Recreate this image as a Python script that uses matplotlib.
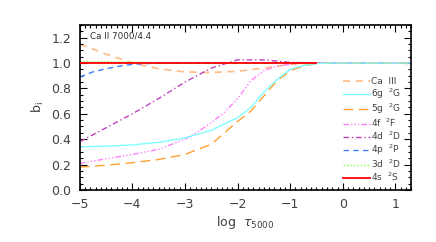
import numpy as np
import matplotlib
matplotlib.use("Agg")
import matplotlib.pyplot as plt
from matplotlib.ticker import MultipleLocator

# level labels (legend order) and curves
labels = ["Ca  III", "6g  $^2$G", "5g  $^2$G", "4f  $^2$F",
          "4d  $^2$D", "4p  $^2$P", "3d  $^2$D", "4s  $^2$S"]

x_ca3 = [-5, -4.5, -4, -3.5, -3, -2.5, -2, -1.5, -1, -0.5, 0, 1.3]
b_ca3 = [1.15, 1.07, 1.0, 0.955, 0.93, 0.925, 0.935, 0.96, 0.99, 1.0, 1.0, 1.0]

x_6g = [-5, -4.5, -4, -3.5, -3, -2.5, -2, -1.75, -1.5, -1.25, -1, -0.75, -0.5, -0.25, 1.3]
b_6g = [0.34, 0.345, 0.355, 0.375, 0.41, 0.47, 0.57, 0.65, 0.77, 0.87, 0.95, 0.98, 0.995, 1.0, 1.0]

x_5g = [-5, -4.5, -4, -3.5, -3, -2.5, -2.25, -2, -1.75, -1.5, -1.25, -1, -0.75, -0.5, -0.25, 1.3]
b_5g = [0.18, 0.195, 0.215, 0.24, 0.28, 0.36, 0.45, 0.54, 0.62, 0.74, 0.86, 0.94, 0.975, 0.995, 1.0, 1.0]

x_4f = [-5, -4.5, -4, -3.5, -3, -2.75, -2.5, -2.25, -2, -1.75, -1.5, -1.25, -1, -0.75, -0.5, 1.3]
b_4f = [0.21, 0.245, 0.28, 0.32, 0.40, 0.46, 0.53, 0.61, 0.72, 0.86, 0.94, 0.975, 0.99, 1.0, 1.0, 1.0]

x_4d = [-5, -4.5, -4, -3.5, -3, -2.5, -2, -1.5, -1, -0.5, 1.3]
b_4d = [0.38, 0.49, 0.6, 0.72, 0.85, 0.96, 1.025, 1.025, 1.005, 1.0, 1.0]

x_4p = [-5, -4.75, -4.5, -4.25, -4, -3.5, -3, 1.3]
b_4p = [0.89, 0.93, 0.955, 0.975, 0.99, 1.0, 1.0, 1.0]

x_3d = [-5, -4.5, -4, -3.5, -3, 1.3]
b_3d = [1.012, 1.01, 1.006, 1.002, 1.0, 1.0]

x_4s = [-5, -0.5]
b_4s = [1.0, 1.0]

fig = plt.figure(figsize=(4.36, 2.42), dpi=100)
ax = fig.add_axes([0.183, 0.215, 0.760, 0.682])

ax.plot(x_4s, b_4s, color="#ff0000", lw=1.3, ls="-", label=labels[7], zorder=3)
ax.plot(x_3d, b_3d, color="#80ff40", lw=1.0, ls=(0, (1, 1.5)), label=labels[6])
ax.plot(x_4p, b_4p, color="#4080ff", lw=1.0, ls=(0, (4, 3)), label=labels[5])
ax.plot(x_4d, b_4d, color="#c040c0", lw=1.0, ls=(0, (4, 2, 1, 2)), label=labels[4])
ax.plot(x_4f, b_4f, color="#ff80ff", lw=1.0, ls=(0, (4, 1.5, 1, 1.5, 1, 1.5, 1, 1.5)), label=labels[3])
ax.plot(x_5g, b_5g, color="#ffa030", lw=1.0, ls=(0, (7, 4)), label=labels[2])
ax.plot(x_6g, b_6g, color="#80ffff", lw=1.0, ls="-", label=labels[1])
ax.plot(x_ca3, b_ca3, color="#ffc090", lw=1.3, ls=(0, (4, 3)), label=labels[0], zorder=1)

ax.set_xlim(-5, 1.3)
ax.set_ylim(0.0, 1.3)
ax.xaxis.set_major_locator(MultipleLocator(1))
ax.xaxis.set_minor_locator(MultipleLocator(0.1))
ax.yaxis.set_major_locator(MultipleLocator(0.2))
ax.yaxis.set_minor_locator(MultipleLocator(0.05))
ax.tick_params(which="both", direction="in", top=True, right=True,
               labelsize=9, labelcolor="#404040", width=0.8, pad=6)
ax.tick_params(which="major", length=5)
ax.tick_params(which="minor", length=2.5)
for s in ax.spines.values():
    s.set_linewidth(1.2)

ax.set_xlabel(r"log  $\tau_{5000}$", fontsize=9, color="#404040", labelpad=2)
ax.set_ylabel(r"b$_{\rm i}$", fontsize=9, color="#404040", labelpad=4)
ax.text(0.03, 0.96, "Ca II 7000/4.4", transform=ax.transAxes, fontsize=6.3,
        color="#303030", va="top", ha="left")

h, l = ax.get_legend_handles_labels()
ax.legend(h[::-1], l[::-1], loc="upper left", bbox_to_anchor=(0.795, 0.685),
          frameon=False, fontsize=6.5, handlelength=3.0, handletextpad=0.1,
          labelspacing=0.07, borderpad=0, borderaxespad=0, labelcolor="#404040")

fig.savefig("out.png", dpi=100)
